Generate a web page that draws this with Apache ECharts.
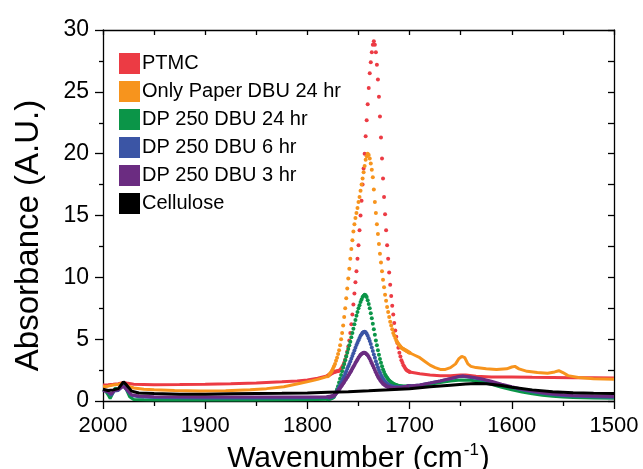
<!DOCTYPE html>
<html>
<head>
<meta charset="utf-8">
<script src="https://cdn.jsdelivr.net/npm/echarts@6/dist/echarts.min.js"></script>
<style>html,body{margin:0;padding:0;background:#fff;}</style>
</head>
<body>
<div id="ftirChart" style="width:643px;height:469px;"></div>
<script>
var seriesNames = ['PTMC', 'Only Paper DBU 24 hr', 'DP 250 DBU 24 hr', 'DP 250 DBU 6 hr', 'DP 250 DBU 3 hr', 'Cellulose']
var seriesColors = ['#ec3b44', '#f7941d', '#0b9548', '#3b55a5', '#6b2c81', '#000000']

// carbonyl region, sampled every 1 cm-1 (drawn as dots like the original)
var peakWn = [1780,1779,1778,1777,1776,1775,1774,1773,1772,1771,1770,1769,1768,1767,1766,1765,1764,1763,1762,1761,
  1760,1759,1758,1757,1756,1755,1754,1753,1752,1751,1750,1749,1748,1747,1746,1745,1744,1743,1742,1741,
  1740,1739,1738,1737,1736,1735,1734,1733,1732,1731,1730,1729,1728,1727,1726,1725,1724,1723,1722,1721,
  1720,1719,1718,1717,1716,1715,1714,1713,1712,1711,1710,1709,1708,1707,1706,1705,1704,1703,1702,1701,1700]

var ptmcPeak = [2.05,2.1,2.15,2.2,2.25,2.3,2.33,2.36,2.38,2.4,2.42,2.45,2.5,2.6,2.75,2.9,3.1,3.35,3.65,4.0,
  4.4,4.9,5.5,6.2,7.0,7.8,8.7,9.6,10.5,11.5,12.6,13.8,15.0,16.2,17.5,18.8,20.0,21.4,22.7,24.0,
  25.3,26.5,27.4,28.2,28.8,29.1,28.8,28.2,27.2,26.0,24.6,23.0,21.3,19.6,18.0,16.5,15.1,13.8,12.6,11.5,
  10.4,9.4,8.5,7.7,7.0,6.3,5.7,5.2,4.7,4.3,3.9,3.6,3.3,3.1,2.9,2.75,2.6,2.5,2.45,2.4,2.35]
var paperPeak = [2.0,2.1,2.2,2.3,2.45,2.6,2.8,3.0,3.25,3.5,3.8,4.1,4.5,5.0,5.5,6.1,6.8,7.5,8.3,9.1,
  9.9,10.7,11.5,12.3,13.0,13.7,14.3,14.8,15.2,15.6,16.1,16.5,17.0,17.5,18.0,18.5,19.0,19.5,19.8,20.0,
  19.9,19.6,19.2,18.7,18.1,17.1,16.1,15.2,14.3,13.5,12.7,11.9,11.2,10.5,9.8,9.2,8.6,8.1,7.6,7.2,
  6.8,6.4,6.1,5.8,5.5,5.3,5.1,4.9,4.75,4.6,4.5,4.4,4.3,4.25,4.2,4.15,4.1,4.05,4.0,3.95,3.9]
var dp24Peak = [0.15,0.16,0.18,0.2,0.24,0.28,0.35,0.5,0.7,0.95,1.2,1.5,1.8,2.1,2.4,2.7,3.0,3.3,3.6,3.9,
  4.2,4.5,4.8,5.15,5.5,5.85,6.2,6.55,6.9,7.2,7.5,7.75,8.0,8.2,8.4,8.52,8.6,8.55,8.4,8.15,
  7.85,7.5,7.1,6.7,6.25,5.8,5.35,4.9,4.5,4.1,3.75,3.4,3.1,2.8,2.55,2.35,2.15,2.0,1.87,1.76,
  1.66,1.58,1.51,1.45,1.4,1.36,1.32,1.29,1.26,1.24,1.22,1.2,1.19,1.18,1.17,1.17,1.17,1.17,1.18,1.19,1.2]
var dp6Peak = [0.28,0.29,0.3,0.32,0.34,0.37,0.42,0.52,0.64,0.78,0.94,1.1,1.28,1.46,1.64,1.82,2.0,2.2,2.4,2.6,
  2.8,3.0,3.2,3.42,3.64,3.86,4.08,4.3,4.52,4.72,4.92,5.1,5.27,5.4,5.52,5.58,5.6,5.55,5.44,5.28,
  5.08,4.85,4.6,4.33,4.05,3.77,3.49,3.22,2.97,2.73,2.5,2.3,2.11,1.94,1.8,1.67,1.56,1.47,1.39,1.33,
  1.28,1.24,1.21,1.18,1.16,1.14,1.13,1.12,1.11,1.1,1.1,1.1,1.1,1.11,1.12,1.13,1.14,1.16,1.18,1.2,1.22]
var dp3Peak = [0.33,0.34,0.35,0.36,0.38,0.41,0.45,0.52,0.61,0.71,0.82,0.94,1.06,1.18,1.3,1.42,1.54,1.67,1.8,1.93,
  2.06,2.19,2.33,2.47,2.62,2.77,2.92,3.07,3.22,3.36,3.5,3.62,3.73,3.81,3.87,3.9,3.9,3.86,3.79,3.69,
  3.56,3.41,3.24,3.06,2.87,2.68,2.5,2.32,2.15,1.99,1.84,1.71,1.59,1.49,1.4,1.33,1.27,1.22,1.18,1.14,
  1.11,1.09,1.07,1.06,1.05,1.04,1.04,1.04,1.04,1.05,1.06,1.07,1.08,1.09,1.1,1.12,1.14,1.16,1.18,1.2,1.22]

// the flat parts either side of the peak, [wavenumber, absorbance]
var ptmcLeft = [[2000,1.3],[1995,1.32],[1990,1.35],[1985,1.4],[1980,1.5],[1977,1.45],[1970,1.35],[1950,1.32],[1925,1.33],
  [1900,1.36],[1875,1.4],[1850,1.46],[1825,1.55],[1810,1.62],[1800,1.7],[1790,1.85],[1780,2.05]]
var ptmcRight = [[1700,2.35],[1690,2.2],[1680,2.1],[1670,2.05],[1660,2.05],[1650,2.1],[1645,2.1],[1635,2.0],[1620,1.95],
  [1600,1.95],[1580,1.92],[1560,1.9],[1540,1.88],[1520,1.87],[1500,1.85]]
var paperLeft = [[2000,1.15],[1995,1.2],[1990,1.3],[1985,1.35],[1980,1.45],[1975,1.2],[1970,1.05],[1960,0.95],[1950,0.9],
  [1930,0.85],[1905,0.8],[1880,0.83],[1856,0.9],[1840,1.0],[1823,1.15],[1807,1.43],[1795,1.65],[1790,1.75],[1785,1.87],[1780,2.0]]
var paperRight = [[1700,3.9],[1695,3.7],[1690,3.5],[1685,3.2],[1680,2.9],[1675,2.7],[1670,2.55],[1665,2.55],[1660,2.7],
  [1655,3.0],[1652,3.4],[1649,3.6],[1646,3.5],[1643,3.0],[1640,2.8],[1635,2.7],[1625,2.6],[1615,2.55],[1605,2.6],
  [1600,2.75],[1597,2.8],[1593,2.6],[1585,2.4],[1575,2.3],[1565,2.25],[1558,2.35],[1554,2.45],[1550,2.3],[1545,2.05],
  [1535,1.9],[1520,1.8],[1500,1.75]]
var dp24Left = [[2000,0.9],[1998,0.85],[1995,0.5],[1993,0.2],[1990,0.7],[1988,1.05],[1985,0.9],[1982,1.2],[1980,1.3],
  [1977,0.9],[1974,0.35],[1970,0.12],[1960,0.1],[1940,0.08],[1900,0.08],[1860,0.08],[1820,0.1],[1790,0.12],[1780,0.15]]
var dp24Right = [[1700,1.2],[1690,1.25],[1680,1.35],[1670,1.5],[1660,1.62],[1650,1.7],[1640,1.68],[1630,1.55],[1620,1.35],
  [1610,1.1],[1600,0.9],[1590,0.72],[1580,0.58],[1570,0.47],[1560,0.38],[1550,0.32],[1540,0.28],[1520,0.24],[1500,0.22]]
var dp6Left = [[2000,0.9],[1995,0.7],[1992,0.45],[1989,0.8],[1985,0.85],[1980,1.25],[1976,0.8],[1972,0.45],[1965,0.35],
  [1950,0.28],[1900,0.25],[1850,0.25],[1800,0.26],[1780,0.28]]
var dp6Right = [[1700,1.22],[1690,1.3],[1680,1.45],[1670,1.62],[1660,1.8],[1652,1.95],[1648,2.0],[1640,1.9],[1630,1.75],
  [1620,1.55],[1610,1.3],[1600,1.1],[1590,0.9],[1580,0.75],[1570,0.62],[1560,0.52],[1550,0.45],[1540,0.4],[1520,0.34],[1500,0.3]]
var dp3Left = [[2000,0.85],[1995,0.75],[1992,0.55],[1989,0.85],[1985,0.9],[1980,1.2],[1976,0.85],[1972,0.5],[1965,0.4],
  [1950,0.35],[1900,0.32],[1850,0.32],[1800,0.32],[1780,0.33]]
var dp3Right = [[1700,1.22],[1690,1.3],[1680,1.45],[1670,1.62],[1660,1.82],[1652,1.98],[1648,2.02],[1640,1.95],[1630,1.8],
  [1620,1.6],[1610,1.36],[1600,1.15],[1590,0.95],[1580,0.8],[1570,0.67],[1560,0.57],[1550,0.5],[1540,0.45],[1520,0.4],[1500,0.37]]
var celluloseLine = [[2000,0.95],[1995,0.85],[1990,0.9],[1985,1.0],[1980,1.55],[1977,1.3],[1972,0.8],[1965,0.65],[1950,0.6],
  [1925,0.55],[1900,0.55],[1875,0.58],[1850,0.6],[1825,0.62],[1800,0.65],[1780,0.7],[1760,0.75],[1740,0.82],[1720,0.9],
  [1700,1.0],[1680,1.15],[1660,1.28],[1645,1.38],[1635,1.42],[1625,1.4],[1610,1.25],[1600,1.12],[1580,0.9],[1560,0.75],
  [1540,0.66],[1520,0.62],[1500,0.6]]

var fontFamily = '"Liberation Sans", Arial, sans-serif'

function lineSeries(idx, data){
    return {
        name: seriesNames[idx],
        type: 'line',
        data: data,
        showSymbol: false,
        color: seriesColors[idx],
        lineStyle: { width: 3, color: seriesColors[idx] },
        animation: false
    }
}
function dotSeries(idx, values){
    return {
        name: seriesNames[idx],
        type: 'scatter',
        data: peakWn.map(function(w, i){ return [w, values[i]] }),
        symbol: 'circle',
        symbolSize: 4,
        itemStyle: { color: seriesColors[idx], opacity: 1 },
        animation: false
    }
}

var chartDom = document.getElementById('ftirChart')
var myChart = echarts.init(chartDom, null, { renderer: 'canvas' })
var option = {
    backgroundColor: '#fff',
    animation: false,
    textStyle: { fontFamily: fontFamily },
    grid: { left: 103, right: 29, top: 30, bottom: 68, containLabel: false, outerBoundsMode: 'none' },
    legend: {
        data: seriesNames,
        orient: 'vertical',
        left: 119,
        top: 53,
        icon: 'rect',
        itemWidth: 21,
        itemHeight: 21,
        itemGap: 7,
        padding: 0,
        textStyle: { fontSize: 20, color: '#000', fontFamily: fontFamily, padding: [0, 0, 0, -3] }
    },
    xAxis: [
        {
            type: 'value',
            position: 'bottom',
            inverse: true,
            min: 1500,
            max: 2000,
            interval: 100,
            name: '{a|Wavenumber (cm}{s|-1}{a|)}',
            nameLocation: 'middle',
            nameGap: 27,
            nameTextStyle: {
                rich: {
                    a: { fontSize: 30, color: '#000', fontFamily: fontFamily, lineHeight: 34 },
                    s: { fontSize: 17, color: '#000', fontFamily: fontFamily, verticalAlign: 'top', lineHeight: 34, padding: [0, 1, 13, 1] }
                }
            },
            axisLine: { onZero: false, lineStyle: { color: '#000', width: 1.3 } },
            axisTick: { inside: false, length: 8, lineStyle: { color: '#000', width: 1.3 } },
            minorTick: { show: true, splitNumber: 2, length: 5, lineStyle: { color: '#000', width: 1.3 } },
            axisLabel: {
                fontSize: 22, color: '#000', margin: 14,
                formatter: function(v){ return String(v) }
            },
            splitLine: { show: false }
        },
        {
            type: 'value',
            position: 'top',
            inverse: true,
            min: 1500,
            max: 2000,
            interval: 50,
            axisLine: { onZero: false, lineStyle: { color: '#000', width: 1.3 } },
            axisTick: { inside: true, length: 5, lineStyle: { color: '#000', width: 1.3 } },
            axisLabel: { show: false },
            splitLine: { show: false }
        }
    ],
    yAxis: [
        {
            type: 'value',
            position: 'left',
            min: 0,
            max: 30,
            interval: 5,
            name: 'Absorbance (A.U.)',
            nameLocation: 'middle',
            nameGap: 58,
            nameTextStyle: { fontSize: 33, color: '#000', padding: [0, 40, 0, 0] },
            axisLine: { onZero: false, lineStyle: { color: '#000', width: 1.3 } },
            axisTick: { inside: false, length: 8, lineStyle: { color: '#000', width: 1.3 } },
            minorTick: { show: true, splitNumber: 2, length: 4, lineStyle: { color: '#000', width: 1.3 } },
            axisLabel: { fontSize: 23, color: '#000', margin: 14 },
            splitLine: { show: false }
        },
        {
            type: 'value',
            position: 'right',
            min: 0,
            max: 30,
            interval: 2.5,
            axisLine: { onZero: false, lineStyle: { color: '#000', width: 1.3 } },
            axisTick: { inside: true, length: 6, lineStyle: { color: '#000', width: 1.3 } },
            axisLabel: { show: false },
            splitLine: { show: false }
        }
    ],
    series: [
        lineSeries(0, ptmcLeft), dotSeries(0, ptmcPeak), lineSeries(0, ptmcRight),
        lineSeries(1, paperLeft), dotSeries(1, paperPeak), lineSeries(1, paperRight),
        lineSeries(2, dp24Left), dotSeries(2, dp24Peak), lineSeries(2, dp24Right),
        lineSeries(3, dp6Left), dotSeries(3, dp6Peak), lineSeries(3, dp6Right),
        lineSeries(4, dp3Left), dotSeries(4, dp3Peak), lineSeries(4, dp3Right),
        lineSeries(5, celluloseLine)
    ]
}
myChart.setOption(option, true)
</script>
</body>
</html>
